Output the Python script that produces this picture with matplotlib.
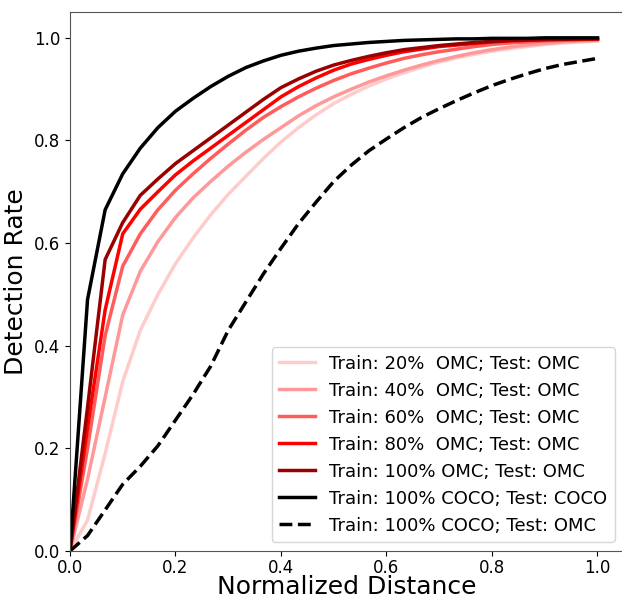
import numpy as np
import matplotlib
matplotlib.use("Agg")
import matplotlib.pyplot as plt

dist = [0.0, 0.0333, 0.0667, 0.1, 0.1333, 0.1667, 0.2, 0.2333, 0.2667, 0.3,
        0.3333, 0.3667, 0.4, 0.4333, 0.4667, 0.5, 0.5333, 0.5667, 0.6, 0.6333,
        0.6667, 0.7, 0.7333, 0.7667, 0.8, 0.8333, 0.8667, 0.9, 0.9333, 0.9667, 1.0]

omc20 = [0, 0.06, 0.19, 0.33, 0.43, 0.5, 0.56, 0.61, 0.655, 0.695,
         0.73, 0.765, 0.797, 0.825, 0.85, 0.872, 0.89, 0.906, 0.92, 0.932,
         0.943, 0.953, 0.961, 0.968, 0.974, 0.979, 0.983, 0.987, 0.99, 0.992, 0.994]
omc40 = [0, 0.14, 0.3, 0.46, 0.545, 0.603, 0.65, 0.688, 0.72, 0.75,
         0.777, 0.802, 0.825, 0.848, 0.868, 0.885, 0.9, 0.914, 0.926, 0.937,
         0.947, 0.956, 0.964, 0.971, 0.977, 0.982, 0.986, 0.989, 0.992, 0.994, 0.995]
omc60 = [0, 0.2, 0.42, 0.555, 0.618, 0.665, 0.703, 0.735, 0.765, 0.793,
         0.82, 0.845, 0.866, 0.885, 0.902, 0.917, 0.93, 0.941, 0.951, 0.96,
         0.967, 0.973, 0.978, 0.983, 0.987, 0.99, 0.992, 0.994, 0.995, 0.996, 0.997]
omc80 = [0, 0.24, 0.47, 0.618, 0.666, 0.7, 0.733, 0.76, 0.785, 0.81,
         0.835, 0.86, 0.885, 0.905, 0.922, 0.937, 0.949, 0.958, 0.966, 0.973,
         0.978, 0.983, 0.986, 0.989, 0.992, 0.994, 0.995, 0.996, 0.997, 0.997, 0.998]
omc100 = [0, 0.28, 0.568, 0.64, 0.693, 0.725, 0.755, 0.78, 0.805, 0.83,
          0.855, 0.88, 0.903, 0.92, 0.935, 0.947, 0.956, 0.964, 0.971, 0.977,
          0.981, 0.985, 0.988, 0.991, 0.993, 0.995, 0.996, 0.997, 0.997, 0.998, 0.998]
coco_coco = [0, 0.49, 0.665, 0.735, 0.785, 0.825, 0.857, 0.882, 0.905, 0.925,
             0.942, 0.955, 0.966, 0.974, 0.98, 0.985, 0.988, 0.991, 0.993, 0.995,
             0.996, 0.997, 0.998, 0.998, 0.999, 0.999, 0.999, 1.0, 1.0, 1.0, 1.0]
coco_omc = [0, 0.03, 0.08, 0.13, 0.165, 0.205, 0.255, 0.305, 0.36, 0.43,
            0.485, 0.54, 0.59, 0.638, 0.68, 0.72, 0.752, 0.78, 0.803, 0.825,
            0.845, 0.862, 0.878, 0.893, 0.907, 0.919, 0.93, 0.94, 0.948, 0.954, 0.96]

fig = plt.figure(figsize=(6.22, 6.0), dpi=100)
ax = fig.add_axes([0.1125, 0.0817, 0.8905, 0.898])

lw = 2.5
ax.plot(dist, omc20, color="#ffcccc", lw=lw, label="Train: 20%  OMC; Test: OMC")
ax.plot(dist, omc40, color="#ff9999", lw=lw, label="Train: 40%  OMC; Test: OMC")
ax.plot(dist, omc60, color="#ff5c5c", lw=lw, label="Train: 60%  OMC; Test: OMC")
ax.plot(dist, omc80, color="#ff0000", lw=lw, label="Train: 80%  OMC; Test: OMC")
ax.plot(dist, omc100, color="#990000", lw=lw, label="Train: 100% OMC; Test: OMC")
ax.plot(dist, coco_coco, "k-", lw=lw, label="Train: 100% COCO; Test: COCO")
ax.plot(dist, coco_omc, "k--", lw=lw, label="Train: 100% COCO; Test: OMC")

ax.set_xlim(0, 1.05)
ax.set_ylim(0, 1.05)
ax.set_xticks([0, 0.2, 0.4, 0.6, 0.8, 1.0])
ax.set_yticks([0, 0.2, 0.4, 0.6, 0.8, 1.0])
ax.tick_params(labelsize=12)
ax.tick_params(axis="x", pad=2)
for s in ax.spines.values():
    s.set_color("#555555")
ax.set_xlabel("Normalized Distance", fontsize=18, labelpad=-1)
ax.set_ylabel("Detection Rate", fontsize=18)
ax.legend(loc="lower right", fontsize=13)

fig.savefig("out.png", dpi=100)
